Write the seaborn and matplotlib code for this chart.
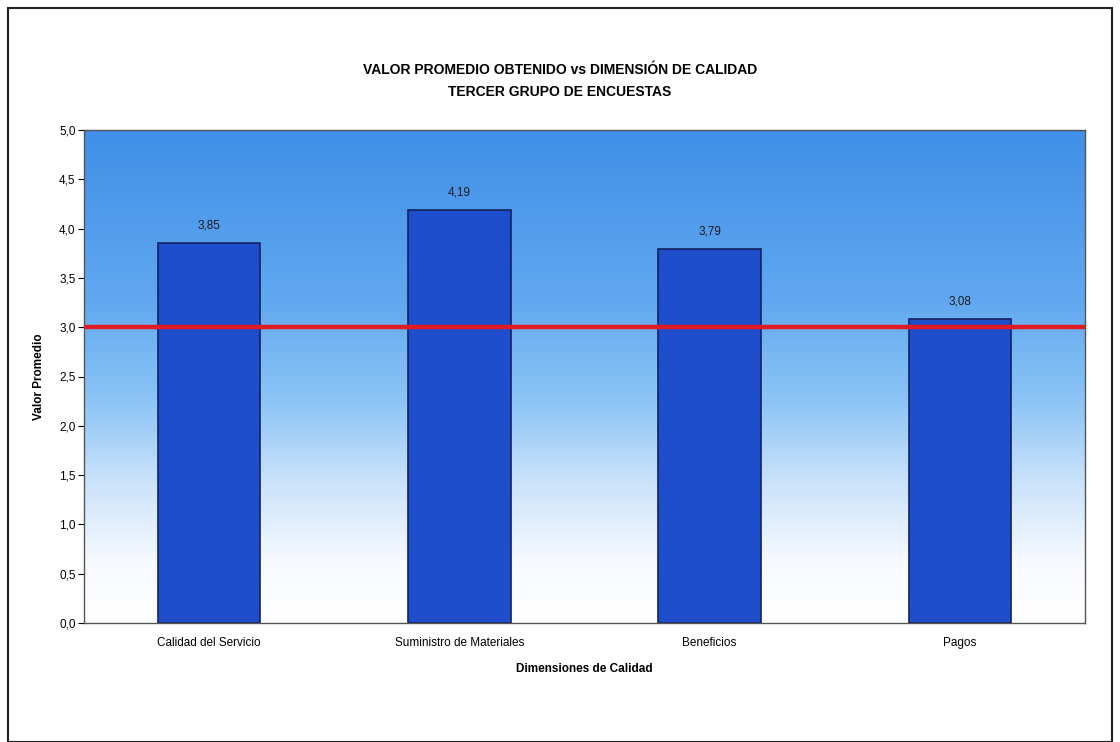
import matplotlib
matplotlib.use("Agg")
import matplotlib.pyplot as plt
import numpy as np
import pandas as pd
import seaborn as sns
from matplotlib.colors import LinearSegmentedColormap
from matplotlib.patches import Rectangle

categories = ["Calidad del Servicio", "Suministro de Materiales", "Beneficios", "Pagos"]
values = [3.85, 4.19, 3.79, 3.08]
value_labels = ["3,85", "4,19", "3,79", "3,08"]
reference = 3.0
yticks = [0.0, 0.5, 1.0, 1.5, 2.0, 2.5, 3.0, 3.5, 4.0, 4.5, 5.0]
ytick_labels = ["0,0", "0,5", "1,0", "1,5", "2,0", "2,5", "3,0", "3,5", "4,0", "4,5", "5,0"]
title = "VALOR PROMEDIO OBTENIDO vs DIMENSIÓN DE CALIDAD\nTERCER GRUPO DE ENCUESTAS"

sns.set_style("white")
plt.rcParams['font.family'] = ['Liberation Sans', 'DejaVu Sans']
plt.rcParams['text.color'] = 'black'
plt.rcParams['axes.labelcolor'] = 'black'
plt.rcParams['xtick.color'] = 'black'
plt.rcParams['ytick.color'] = 'black'

fig = plt.figure(figsize=(11.2, 7.42), dpi=100)
W, H = 1120, 742
left, right, top, bottom = 84, 1085, 130, 623
ax = fig.add_axes([left / W, 1 - bottom / H, (right - left) / W, (bottom - top) / H])

# background gradient
cmap = LinearSegmentedColormap.from_list("bg", [
    (0.0, (1.0, 1.0, 1.0)),
    (0.12, (0.97, 0.98, 1.0)),
    (0.28, (0.80, 0.89, 0.98)),
    (0.45, (0.55, 0.77, 0.96)),
    (0.65, (0.38, 0.66, 0.94)),
    (1.0, (0.25, 0.56, 0.91)),
])
grad = np.linspace(0, 1, 256).reshape(-1, 1)
ax.imshow(grad, extent=[0, 1, 0, 1], transform=ax.transAxes, aspect="auto",
          cmap=cmap, origin="lower", zorder=0)

df = pd.DataFrame({"cat": categories, "val": values})
sns.barplot(data=df, x="cat", y="val", ax=ax, color="#1f4ecc", saturation=1,
            width=0.41, edgecolor="#14235e", linewidth=1.2, zorder=2)

ax.axhline(reference, color="#e01b24", lw=3.2, zorder=3)

for i, (v, lab) in enumerate(zip(values, value_labels)):
    ax.text(i, v + 0.12, lab, ha="center", va="bottom", fontsize=8.5, color="#1a1a1a", zorder=4)

ax.set_xlim(-0.5, 3.5)
ax.set_ylim(0, 5)
ax.set_yticks(yticks)
ax.set_yticklabels(ytick_labels, fontsize=8.5)
ax.tick_params(axis="y", length=4, width=0.8, direction="out", pad=2, left=True)
ax.tick_params(axis="x", length=0, pad=10, labelsize=8.5)
ax.set_xlabel("Dimensiones de Calidad", fontsize=8.5, fontweight="bold", labelpad=10)
ax.set_ylabel("Valor Promedio", fontsize=8.5, fontweight="bold", labelpad=10)
for s in ax.spines.values():
    s.set_visible(True)
    s.set_color("#555555")
    s.set_linewidth(1.0)

fig.text(0.5, 1 - 81 / H, title, ha="center", va="center", fontsize=10, fontweight="bold",
         linespacing=1.65, color="black")

# outer chart border
fig.patches.append(Rectangle((8 / W, 0), (1112 - 8) / W, 1 - 8 / H, transform=fig.transFigure,
                             fill=False, edgecolor="#222222", linewidth=1.5, zorder=10))

fig.savefig("out.png", dpi=100)
